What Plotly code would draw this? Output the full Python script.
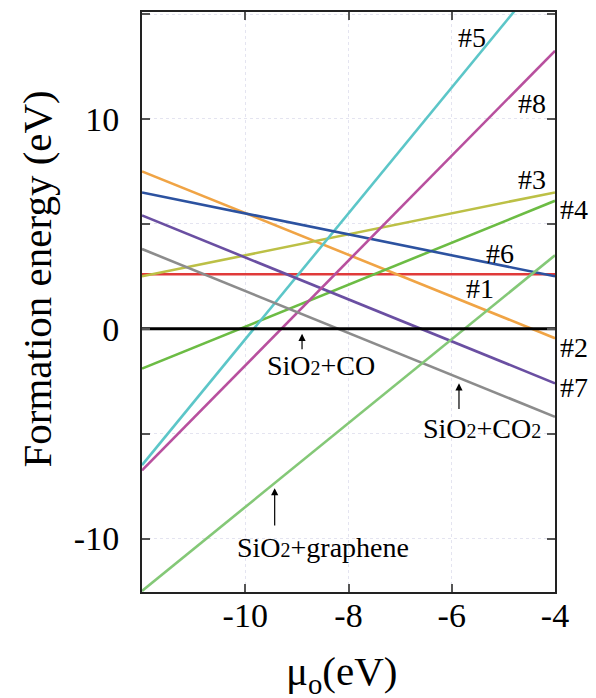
import plotly.graph_objects as go

# x endpoints (mu_O, eV)
x_ends = [-12, -4]

# Series: formation energies at the two x endpoints
series_names = ["#1", "#2", "#3", "#4", "#5", "#6", "#7", "#8", "SiO2+CO2", "SiO2+graphene"]
y_1 = [2.6, 2.6]
y_2 = [7.5, -0.45]
y_3 = [2.5, 6.5]
y_4 = [-1.9, 6.1]
y_5 = [-6.5, 17.5]
y_6 = [6.5, 2.5]
y_7 = [5.4, -2.6]
y_8 = [-6.75, 13.25]
y_co2 = [3.8, -4.2]
y_graphene = [-12.5, 3.5]
y_zero = [0, 0]

series_values = [y_1, y_2, y_3, y_4, y_5, y_6, y_7, y_8, y_co2, y_graphene]
colors = ["#e03a3a", "#f0a445", "#bcc046", "#6cbc44", "#5cc6c8", "#2c52a0",
          "#6a4fa2", "#b8509e", "#8c8c8c", "#84c877"]

x_tickvals = [-12, -10, -8, -6, -4]
x_ticktext = ["", "-10", "-8", "-6", "-4"]
y_tickvals = [-10, -5, 0, 5, 10, 15]
y_ticktext = ["-10", "", "0", "", "10", ""]

FONT = "Liberation Serif, Times New Roman, serif"

fig = go.Figure()
for name, ys, c in zip(series_names, series_values, colors):
    fig.add_trace(go.Scatter(x=x_ends, y=ys, mode="lines", name=name,
                             line=dict(color=c, width=2.6), showlegend=False))
fig.add_trace(go.Scatter(x=x_ends, y=y_zero, mode="lines", showlegend=False,
                         line=dict(color="black", width=3)))

# labels inside plot: (text, x, y)
labels = [("#5", -5.61, 13.9), ("#8", -4.44, 10.74), ("#3", -4.44, 7.13),
          ("#6", -5.06, 3.6), ("#1", -5.45, 1.9)]
for t, x, y in labels:
    fig.add_annotation(x=x, y=y, text=t, showarrow=False,
                       font=dict(family=FONT, size=28, color="black"))

# labels right of plot: (text, paper x, y)
right_labels = [("#4", 1.045, 5.7), ("#2", 1.045, -0.9), ("#7", 1.045, -2.8)]
for t, x, y in right_labels:
    fig.add_annotation(xref="paper", x=x, y=y, xanchor="center", text=t, showarrow=False,
                       font=dict(family=FONT, size=28, color="black"))

sub = "<span style='font-size:20px'>2</span>"
texts = [("SiO" + sub + "+CO" + sub, -5.41, -4.75),
         ("SiO" + sub + "+CO", -8.53, -1.76),
         ("SiO" + sub + "+graphene", -8.49, -10.45)]
for t, x, y in texts:
    fig.add_annotation(x=x, y=y, text=t, showarrow=False,
                       font=dict(family=FONT, size=28, color="black"))

arrows = [(-5.86, -3.9, -2.6), (-8.9, -1.05, -0.24), (-9.43, -9.45, -7.6)]
for x, y0, y1 in arrows:
    fig.add_annotation(x=x, y=y1, ax=x, ay=y0, axref="x", ayref="y",
                       text="", showarrow=True, arrowhead=2, arrowsize=1.2,
                       arrowwidth=1.2, arrowcolor="black")

# axis titles
fig.add_annotation(xref="paper", yref="paper", x=-0.255, y=0.54, xanchor="center",
                   yanchor="middle", text="Formation energy (eV)", textangle=-90,
                   showarrow=False, font=dict(family=FONT, size=41, color="black"))
fig.add_annotation(xref="paper", yref="paper", x=0.483, y=-0.142, xanchor="center",
                   yanchor="middle", text="μ<sub>o</sub>(eV)", showarrow=False,
                   font=dict(family=FONT, size=41, color="black"))

axis_common = dict(showline=True, linecolor="#222", linewidth=2, mirror="allticks",
                   ticks="inside", ticklen=8, tickcolor="#555", tickwidth=1.5,
                   showgrid=True, gridcolor="#e4e4f0", griddash="dot", gridwidth=1,
                   zeroline=False, tickfont=dict(family=FONT, size=34, color="black"))

fig.update_xaxes(range=[-12, -4], tickvals=x_tickvals, ticktext=x_ticktext,
                 ticklabelstandoff=-8, **axis_common)
fig.update_yaxes(range=[-12.55, 15.1], tickvals=y_tickvals, ticktext=y_ticktext,
                 ticklabelstandoff=14, **axis_common)

fig.update_layout(width=596, height=698, margin=dict(l=142, r=41, t=10, b=106),
                  plot_bgcolor="white", paper_bgcolor="white")

fig.write_html("out.html")
